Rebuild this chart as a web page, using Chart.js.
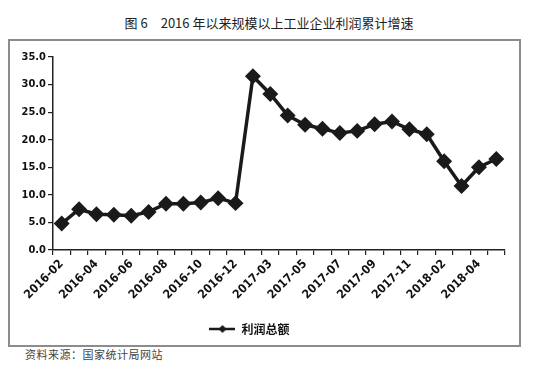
<!DOCTYPE html>
<html>
<head>
<meta charset="utf-8">
<script src="https://cdn.jsdelivr.net/npm/chart.js@4/dist/chart.umd.min.js"></script>
<style>
  body { margin: 0; background: #fff; width: 538px; height: 370px; position: relative; overflow: hidden; }
  #title { position: absolute; top: 13px; left: 0; width: 538px; text-align: center;
           font: 13px "Noto Sans CJK SC", sans-serif; color: #222; }
  #box { position: absolute; left: 8px; top: 39px; width: 513px; height: 308px;
         border: 2px solid #8c8c8c; box-sizing: border-box; }
  #wrap { position: relative; width: 509px; height: 304px; }
  #source { position: absolute; left: 25px; top: 346px; letter-spacing: 0.5px;
            font: 11px "Noto Sans CJK SC", sans-serif; color: #444; }
</style>
</head>
<body>
<div id="title">图 6　2016 年以来规模以上工业企业利润累计增速</div>
<div id="box"><div id="wrap"><canvas id="myChart"></canvas></div></div>
<div id="source">资料来源：国家统计局网站</div>
<script>
// 月份（累计），1月并入2月
const labels = [
  '2016-02', '2016-03', '2016-04', '2016-05', '2016-06', '2016-07', '2016-08',
  '2016-09', '2016-10', '2016-11', '2016-12',
  '2017-02', '2017-03', '2017-04', '2017-05', '2017-06', '2017-07', '2017-08',
  '2017-09', '2017-10', '2017-11', '2017-12',
  '2018-02', '2018-03', '2018-04', '2018-05'
];
const profitGrowth = [
  4.8, 7.4, 6.5, 6.4, 6.2, 6.9, 8.4, 8.4, 8.6, 9.4, 8.5,
  31.5, 28.3, 24.4, 22.7, 22.0, 21.2, 21.6, 22.8, 23.3, 21.9, 21.0,
  16.1, 11.6, 15.0, 16.5
];
const yTicks = [0, 5, 10, 15, 20, 25, 30, 35];

const lineColor = '#1a1a1a';

// 图例标记：横线 + 菱形
const legendMark = document.createElement('canvas');
legendMark.width = 26;
legendMark.height = 10;
(function () {
  const c = legendMark.getContext('2d');
  c.strokeStyle = lineColor;
  c.lineWidth = 2.5;
  c.beginPath();
  c.moveTo(0, 5);
  c.lineTo(26, 5);
  c.stroke();
  c.fillStyle = lineColor;
  c.beginPath();
  c.moveTo(13, 1);
  c.lineTo(17, 5);
  c.lineTo(13, 9);
  c.lineTo(9, 5);
  c.closePath();
  c.fill();
})();

// 图例整体左移一点
const legendShift = {
  id: 'legendShift',
  afterLayout: function (chart) {
    chart.legend.left -= 8;
    chart.legend.right -= 8;
  }
};

const data = {
  labels: labels,
  datasets: [{
    label: '利润总额',
    data: profitGrowth,
    borderColor: lineColor,
    backgroundColor: lineColor,
    borderWidth: 3.5,
    pointStyle: 'rectRot',
    pointRadius: 5.5,
    pointBackgroundColor: lineColor,
    pointBorderColor: lineColor,
    tension: 0
  }]
};

const tickFamily = "'DejaVu Sans Condensed', 'DejaVu Sans'";

const config = {
  type: 'line',
  data: data,
  plugins: [legendShift],
  options: {
    responsive: true,
    maintainAspectRatio: false,
    animation: false,
    layout: { padding: { top: 16, right: 14, left: 0, bottom: 0 } },
    plugins: {
      tooltip: { enabled: false },
      legend: {
        position: 'bottom',
        labels: {
          color: '#111',
          font: { family: 'Noto Sans CJK SC', size: 12, weight: 'bold' },
          usePointStyle: true,
          pointStyleWidth: 26,
          padding: 6,
          generateLabels: function (chart) {
            const items = Chart.defaults.plugins.legend.labels.generateLabels(chart);
            items.forEach(function (it) { it.pointStyle = legendMark; });
            return items;
          }
        }
      }
    },
    scales: {
      x: {
        offset: true,
        grid: {
          offset: true,
          drawOnChartArea: false,
          drawTicks: true,
          tickLength: 5,
          color: '#222',
          lineWidth: 1.2
        },
        border: { color: '#222', width: 1.5 },
        ticks: {
          autoSkip: false,
          minRotation: 45,
          maxRotation: 45,
          padding: 2,
          color: '#111',
          font: { family: tickFamily, size: 12, weight: 'bold' },
          callback: function (value, index) {
            return index % 2 === 0 ? labels[index] : '';
          }
        },
        afterFit: function (scale) { scale.height = 67; }
      },
      y: {
        min: 0,
        max: 35,
        afterBuildTicks: function (scale) {
          scale.ticks = yTicks.map(function (v) { return { value: v }; });
        },
        grid: {
          drawOnChartArea: false,
          drawTicks: true,
          tickLength: 5,
          color: '#222',
          lineWidth: 1.2
        },
        border: { color: '#222', width: 1.5 },
        ticks: {
          padding: 2,
          color: '#111',
          font: { family: tickFamily, size: 11, weight: 'bold' },
          callback: function (value) { return value.toFixed(1); }
        },
        afterFit: function (scale) { scale.width = 43; }
      }
    }
  }
};

var myChart = new Chart(document.getElementById('myChart'), config);
</script>
</body>
</html>
